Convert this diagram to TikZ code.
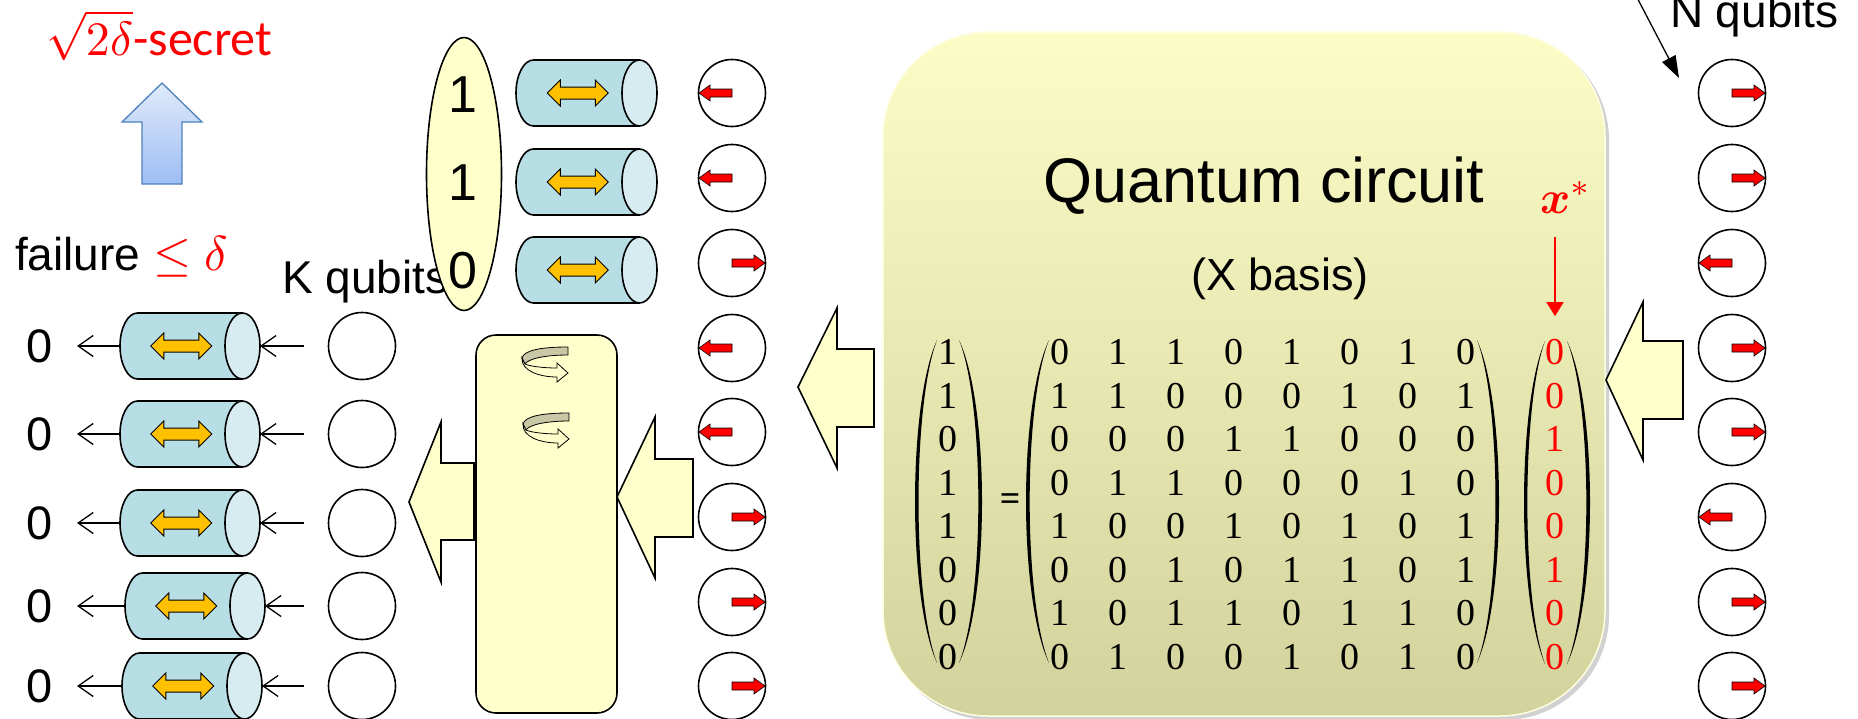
\documentclass[tikz,border=0pt]{standalone}
\usepackage{amsmath}
\usepackage{graphicx}
\usepackage{fontspec}
\newfontfamily\sansfont{Liberation Sans}
\newfontfamily\seriffont{Liberation Serif}
\newfontfamily\calfont{Carlito}
\usetikzlibrary{arrows.meta,calc,shapes.geometric}

\definecolor{paleyellow}{RGB}{255,255,204}
\definecolor{tubeblue}{RGB}{183,222,228}
\definecolor{tubecap}{RGB}{214,236,240}
\definecolor{gold}{RGB}{255,192,0}
\definecolor{bandgrey}{RGB}{200,200,166}
\definecolor{boxtop}{RGB}{252,252,198}
\definecolor{boxbottom}{RGB}{210,210,156}
\definecolor{blueedge}{RGB}{79,129,189}
\definecolor{bluetop}{RGB}{224,234,250}
\definecolor{bluebottom}{RGB}{158,190,244}

\newcommand\fsz[1]{\fontsize{#1}{#1}\selectfont}
% math set at 10pt and enlarged
\newcommand\bigmath[2]{{\fontsize{10}{12}\selectfont\scalebox{#1}{$#2$}}}

% horizontal tube: name, left x, right x, centre y
\newcommand\drawtube[4]{%
  \pgfmathsetmacro\tubemid{(#2+#3)/2}%
  \pgfmathsetmacro\tubew{#3-#2}%
  \pgfmathsetmacro\arrowmid{(#2+#3-17.5)/2}%
  \node[tubebox, minimum width=\tubew pt] (#1) at (\tubemid,#4) {};
  \draw[line width=1.6pt, fill=tubeblue]
    ($(#1.north east)+(-17.5,0)$) -- ($(#1.north west)+(17.5,0)$)
    arc[start angle=90, end angle=270, x radius=17.5pt, y radius=33pt]
    -- ($(#1.south east)+(-17.5,0)$);
  \draw[line width=1.6pt, fill=tubecap] ($(#1.east)+(-17.5,0)$) ellipse[x radius=17.5pt, y radius=33pt];
  \begin{scope}[shift={(\arrowmid,#4)}]
    \draw[fill=gold, line width=1pt, line join=miter]
      (-30.5,0) -- (-17.5,-13) -- (-17.5,-6) -- (17.5,-6) -- (17.5,-13) -- (30.5,0)
      -- (17.5,13) -- (17.5,6) -- (-17.5,6) -- (-17.5,13) -- cycle;
  \end{scope}}

% red spin arrow inside a qubit: node name, direction (1 right, -1 left)
\newcommand\spin[2]{%
  \begin{scope}[shift={(#1.center)}, xscale=#2]
    \draw[fill=red, line width=0.6pt, line join=miter]
      (0,-4) -- (22,-4) -- (22,-8) -- (33,0) -- (22,8) -- (22,4) -- (0,4) -- cycle;
  \end{scope}}

% tall thin parenthesis: tip x, bulge x, top y, bottom y
\newcommand\bracketarc[4]{%
  \pgfmathsetmacro\ctrlA{#1+(#2-#1)*4/3}%
  \pgfmathsetmacro\ctrlB{#1+(#2-#1)*4/3*0.84}%
  \pgfmathsetmacro\yA{#3+0.2*(#4-#3)}%
  \pgfmathsetmacro\yB{#4-0.2*(#4-#3)}%
  \fill (#1,#3) .. controls (\ctrlA,\yA) and (\ctrlA,\yB) .. (#1,#4)
        .. controls (\ctrlB,\yB) and (\ctrlB,\yA) .. (#1,#3) -- cycle;}

% small twisted-ribbon rotation icon, top-left corner at (x,y)
\newcommand\twist[2]{%
  \begin{scope}[shift={(#1,#2)}]
    \draw[fill=bandgrey, line width=0.8pt]
      (46,0) .. controls (20,0) and (2,3) .. (0,11) -- (3,17)
      .. controls (6,12) and (22,8) .. (46,8) -- cycle;
    \draw[fill=paleyellow, line width=0.8pt, line join=miter]
      (0,11) .. controls (-1,24) and (18,30) .. (35,30) -- (35,35) -- (46,26)
      -- (35,16) -- (35,21) .. controls (20,21) and (7,19) .. (3,17) -- cycle;
  \end{scope}}

\begin{document}
\begin{tikzpicture}[x=1pt, y=-1pt,
  every node/.style={inner sep=0pt, outer sep=0pt},
  qubit/.style={circle, draw, line width=1.6pt, minimum size=67pt, fill=white},
  tubebox/.style={rectangle, minimum height=66pt},
  txt/.style={font=\sansfont\fsz{46}},
  mdigit/.style={font=\seriffont\fsz{38}},
  barb/.style={line width=1.3pt, -{Straight Barb[length=15pt, width=21pt]}},
  blockarrow/.style={fill=paleyellow, draw, line width=1.6pt, line join=miter}]

\useasboundingbox (0,0) rectangle (1858,718);
\fill[white] (0,0) rectangle (1858,718);

% ---------- quantum circuit panel ----------
\fill[black, opacity=0.18, rounded corners=105pt] (886,35) rectangle (1609,720);
\node[rounded corners=105pt, minimum width=722pt, minimum height=684pt,
      top color=boxtop, bottom color=boxbottom, draw=boxtop!50!white, line width=1.5pt]
      (circuit) at (1244,374) {};
\node[font=\sansfont\fsz{63}, anchor=base] (qc) at (1264,202) {Quantum circuit};
\node[font=\sansfont\fsz{45}, anchor=base] (xb) at (1280,290) {(X basis)};
\node[text=red, anchor=base west] (xs) at (1540,213) {\bigmath{4.6}{\boldsymbol{x}^{*}}};

% parity-check equation
\foreach \v [count=\r] in {1,1,0,1,1,0,0,0}{
  \node[mdigit] (lv-\r) at (948,{352+43.57*(\r-1)}) {\v};
}
\foreach \rowvals [count=\r] in {{0,1,1,0,1,0,1,0},{1,1,0,0,0,1,0,1},{0,0,0,1,1,0,0,0},
    {0,1,1,0,0,0,1,0},{1,0,0,1,0,1,0,1},{0,0,1,0,1,1,0,1},{1,0,1,1,0,1,1,0},{0,1,0,0,1,0,1,0}}{
  \foreach \v [count=\c] in \rowvals {
    \node[mdigit] (m-\r-\c) at ({1060+58*(\c-1)},{352+43.57*(\r-1)}) {\v};
  }
}
\foreach \v [count=\r] in {0,0,1,0,0,1,0,0}{
  \node[mdigit, text=red] (rv-\r) at (1555,{352+43.57*(\r-1)}) {\v};
}
\node[font=\seriffont\bfseries\fsz{36}] (eq) at (1010,502) {=};
\bracketarc{937}{915}{340}{663}
\bracketarc{959}{982}{340}{663}
\bracketarc{1049}{1026}{340}{663}
\bracketarc{1477}{1499}{340}{663}
\bracketarc{1545}{1524}{341}{664}
\bracketarc{1567}{1590}{341}{664}
\draw[red, line width=1.5pt, -{Triangle[length=14pt, width=17pt]},
      shorten <=24pt, shorten >=23pt] (xs.south -| rv-1.north) -- (rv-1.north);

% ---------- block arrows ----------
\draw[blockarrow] (1606,380) -- (1643,302) -- (1643,341) -- (1683,341) -- (1683,419)
  -- (1643,419) -- (1643,460) -- cycle;
\draw[blockarrow] (798,387) -- (837,308) -- (837,349) -- (874,349) -- (874,427)
  -- (837,427) -- (837,468) -- cycle;
\draw[blockarrow] (617,497) -- (655,417) -- (655,459) -- (693,459) -- (693,537)
  -- (655,537) -- (655,578) -- cycle;
\draw[blockarrow] (409,502) -- (441,422) -- (441,463) -- (474,463) -- (474,540)
  -- (441,540) -- (441,582) -- cycle;

% ---------- mixing stage ----------
\node[draw, rounded corners=20pt, fill=paleyellow, line width=1.6pt,
      minimum width=141pt, minimum height=378pt] (mixer) at (546.5,524) {};
\twist{522}{347}
\twist{523}{413}

% ---------- N input qubits ----------
\foreach \y [count=\i] in {93,178,263,348,432,517,602,686}{
  \node[qubit] (rq\i) at (1732,\y) {};
}
\foreach \i/\d in {1/1,2/1,3/-1,4/1,5/1,6/-1,7/1,8/1}{
  \spin{rq\i}{\d}
}
\node[txt, anchor=base west] (nq) at (1670,27) {N qubits};
\coordinate (nq-tail) at (1632,-12);
\coordinate (nq-tip) at (1679,78);
\draw[line width=1.3pt, -{Triangle[length=22pt, width=15pt]}] (nq-tail) -- (nq-tip);

% ---------- middle qubits ----------
\foreach \y [count=\i] in {93,178,263,348,432,517,602,686}{
  \node[qubit] (mq\i) at (732,\y) {};
}
\foreach \i/\d in {1/-1,2/-1,3/1,4/-1,5/-1,6/1,7/1,8/1}{
  \spin{mq\i}{\d}
}

% ---------- measured bits ----------
\node[txt, anchor=base west] (kq) at (282,293) {K qubits};
\node[draw, ellipse, fill=paleyellow, line width=1.6pt,
      minimum width=75pt, minimum height=273pt] (bits) at (464,174) {};
\node[font=\sansfont\fsz{52}] (b1) at (463,95) {1};
\node[font=\sansfont\fsz{52}] (b2) at (463,183) {1};
\node[font=\sansfont\fsz{52}] (b3) at (463,271) {0};
\drawtube{tt1}{516}{657}{93}
\drawtube{tt2}{516}{657}{182}
\drawtube{tt3}{516}{657}{270}

% ---------- K output qubits ----------
\foreach \y/\lx/\rx [count=\i] in {346/120/260,434/120/260,523/120/260,606/125/265,686/122/262}{
  \node[qubit] (kc\i) at (362,\y) {};
  \node[font=\sansfont\fsz{47}] (z\i) at (40,\y) {0};
  \drawtube{kt\i}{\lx}{\rx}{\y}
  \draw[barb, shorten >=24pt] (kt\i.west) -- (z\i.east);
  \draw[barb, shorten <=25pt] (kc\i.west) -- (kt\i.east);
}
\node[txt, anchor=base west] (fail) at (15,270) {failure {\color{red}\bigmath{4.9}{\le\delta}}};

% ---------- privacy amplification result ----------
\draw[draw=blueedge, line width=1.3pt, top color=bluetop, bottom color=bluebottom, line join=miter]
  (162,83) -- (202,122) -- (182,122) -- (182,184) -- (142,184) -- (142,122) -- (122,122) -- cycle;
\node[text=red, anchor=base west] (secret) at (46,55) {\bigmath{4.8}{\sqrt{2\delta}}{\calfont\fsz{50}-secret}};

\end{tikzpicture}
\end{document}
